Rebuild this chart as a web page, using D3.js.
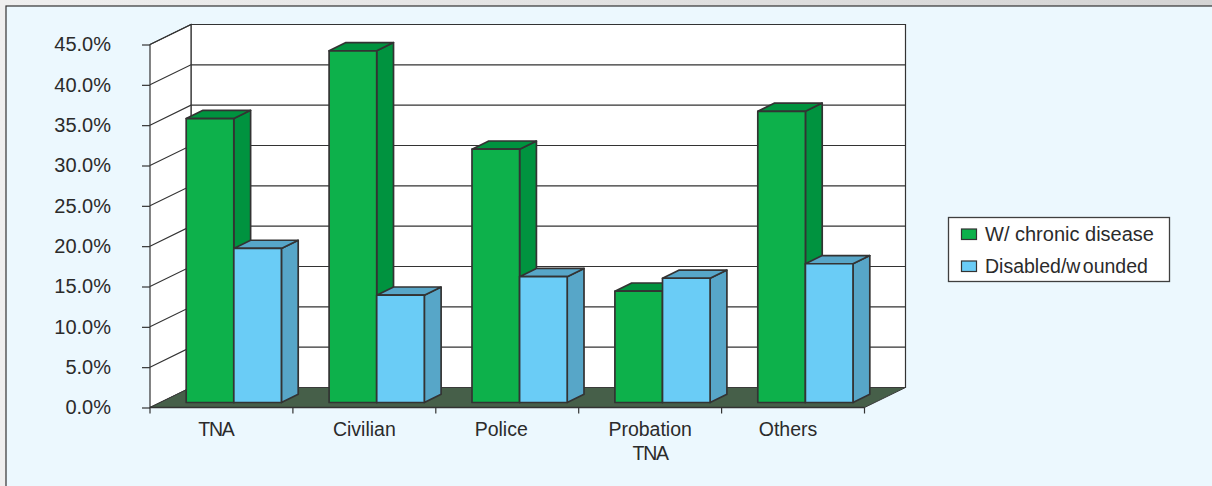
<!DOCTYPE html>
<html>
<head>
<meta charset="utf-8">
<script src="https://cdn.jsdelivr.net/npm/d3@7"></script>
<style>
html,body{margin:0;padding:0;background:#e4e4e4;overflow:hidden}
text{font-family:"Liberation Sans",Arial,sans-serif;fill:#2b2b2b}
</style>
</head>
<body>
<svg id="chart" width="1212" height="486"></svg>
<script>
// Share of respondents by group and condition
const categories = ["TNA", "Civilian", "Police", "Probation|TNA", "Others"];
const chronicDisease = [35.2, 43.6, 31.4, 13.8, 36.1];
const disabledWounded = [19.1, 13.3, 15.6, 15.4, 17.2];
const yTicks = [0, 5, 10, 15, 20, 25, 30, 35, 40, 45];
const seriesNames = ["W/ chronic disease", "Disabled/w ounded"];

const fills = [
  {front: "#0db14b", side: "#00933f"},
  {front: "#6accf6", side: "#57a6c8"}
];
const ink = "#333333";

const svg = d3.select("#chart");

// Panel behind the plot
const defs = svg.append("defs");
const band = defs.append("linearGradient").attr("id", "topBand").attr("x1", 0).attr("x2", 1).attr("y1", 0).attr("y2", 0);
band.append("stop").attr("offset", 0).attr("stop-color", "#efefef");
band.append("stop").attr("offset", 1).attr("stop-color", "#d4d4d4");
svg.append("rect").attr("width", 1212).attr("height", 486).attr("fill", "url(#topBand)");
svg.append("rect").attr("x", 6).attr("y", 6).attr("width", 1210).attr("height", 484)
  .attr("fill", "#ecf8fe").attr("stroke", ink).attr("stroke-width", 1.2);

// Scales for the front plane of the plot
const x = d3.scaleBand().domain(categories).range([150, 864.5]);
const y = d3.scaleLinear().domain([0, 45]).range([407.5, 44.5]);

// Oblique projection: depth 0..1 runs from the front plane to the back wall
const depthX = 41, depthY = -20;
const project = (px, py, d) => [px + d * depthX, py + d * depthY];
const poly = pts => pts.map(p => p.join(",")).join(" ");

const x0 = x.range()[0], x1 = x.range()[1];
const plot = svg.append("g");

// Back and side walls
plot.append("polygon").attr("fill", "#fff").attr("stroke", ink).attr("stroke-width", 1.2)
  .attr("points", poly([project(x0, y(0), 1), project(x1, y(0), 1), project(x1, y(45), 1), project(x0, y(45), 1)]));
plot.append("polygon").attr("fill", "#fff").attr("stroke", ink).attr("stroke-width", 1.2)
  .attr("points", poly([project(x0, y(0), 0), project(x0, y(0), 1), project(x0, y(45), 1), project(x0, y(45), 0)]));

// Gridlines wrapping the two walls
plot.selectAll("polyline.grid").data(yTicks.slice(1)).join("polyline")
  .attr("class", "grid").attr("fill", "none").attr("stroke", ink).attr("stroke-width", 1.1)
  .attr("points", t => poly([project(x0, y(t), 0), project(x0, y(t), 1), project(x1, y(t), 1)]));

// Floor
plot.append("polygon").attr("fill", "#465f49").attr("stroke", "#3a3a3a").attr("stroke-width", 1)
  .attr("points", poly([project(x0, y(0), 0), project(x1, y(0), 0), project(x1, y(0), 1), project(x0, y(0), 1)]));

// Bars as boxes, two per category
const barW = 47.6;
const groupOffset = 36.2;
const dNear = 0.25, dFar = 0.66;
const rows = categories.map((c, i) => [
  {c, s: 0, v: chronicDisease[i]},
  {c, s: 1, v: disabledWounded[i]}
]).flat();

const boxes = plot.selectAll("g.box").data(rows).join("g").attr("class", "box")
  .attr("stroke", ink).attr("stroke-width", 1.7).attr("stroke-linejoin", "round");

const corners = d => {
  const l = x(d.c) + groupOffset - dNear * depthX + d.s * barW;
  const r = l + barW;
  return {l, r, b: y(0), t: y(d.v) };
};
boxes.append("polygon").attr("fill", d => fills[d.s].side).attr("points", d => {
  const k = corners(d);
  return poly([project(k.r, k.b, dNear), project(k.r, k.b, dFar), project(k.r, k.t, dFar), project(k.r, k.t, dNear)]);
});
boxes.append("polygon").attr("fill", d => fills[d.s].side).attr("points", d => {
  const k = corners(d);
  return poly([project(k.l, k.t, dNear), project(k.r, k.t, dNear), project(k.r, k.t, dFar), project(k.l, k.t, dFar)]);
});
boxes.append("polygon").attr("fill", d => fills[d.s].front).attr("points", d => {
  const k = corners(d);
  return poly([project(k.l, k.b, dNear), project(k.r, k.b, dNear), project(k.r, k.t, dNear), project(k.l, k.t, dNear)]);
});

// Axes
const yAxis = d3.axisLeft(y).tickValues(yTicks).tickSize(8).tickPadding(31)
  .tickFormat(t => d3.format(".1f")(t) + "%");
const gy = svg.append("g").attr("transform", `translate(${x0},0)`).call(yAxis);
gy.selectAll("line").attr("stroke", ink).attr("stroke-width", 1.2);
gy.select(".domain").remove();
gy.selectAll("text").attr("font-size", 20).attr("fill", "#2b2b2b").attr("font-family", null);

svg.append("line").attr("x1", x0).attr("x2", x1).attr("y1", y(0)).attr("y2", y(0))
  .attr("stroke", ink).attr("stroke-width", 1.4);

// Category ticks sit between the groups
const gx = svg.append("g");
const boundaries = [x0].concat(categories.map(c => x(c) + x.bandwidth()));
gx.selectAll("line").data(boundaries).join("line")
  .attr("x1", d => d).attr("x2", d => d).attr("y1", y(0)).attr("y2", y(0) + 6)
  .attr("stroke", ink).attr("stroke-width", 1.2);

// Per-label horizontal nudge, in category order
const labelNudge = [-5.5, 0, -6, 0, -5];
const labels = gx.selectAll("text").data(categories).join("text")
  .attr("text-anchor", "middle").attr("font-size", 19.5)
  .attr("transform", (c, i) => `translate(${x(c) + x.bandwidth() / 2 + labelNudge[i]},0)`);
labels.selectAll("tspan").data(c => c.split("|")).join("tspan")
  .attr("x", 0).attr("y", (d, i) => 435.5 + i * 24.5)
  .attr("letter-spacing", d => d === "TNA" ? -1.2 : null)
  .text(d => d);

// Legend
const legend = svg.append("g").attr("transform", "translate(948,217)");
legend.append("rect").attr("x", 0.5).attr("y", 0.5).attr("width", 221).attr("height", 64)
  .attr("fill", "#fff").attr("stroke", "#3f3f3f").attr("stroke-width", 1.3);
const items = legend.selectAll("g").data(seriesNames).join("g")
  .attr("transform", (d, i) => `translate(0,${17 + i * 32})`);
items.append("rect").attr("x", 13.5).attr("y", -5).attr("width", 15).attr("height", 10.5)
  .attr("fill", (d, i) => fills[i].front).attr("stroke", ink).attr("stroke-width", 1.2);
items.append("text").attr("x", 37).attr("y", 7)
  .attr("font-size", (d, i) => i === 0 ? 20 : 19.5)
  .attr("word-spacing", (d, i) => i === 0 ? 0 : -3)
  .text(d => d);
</script>
</body>
</html>
